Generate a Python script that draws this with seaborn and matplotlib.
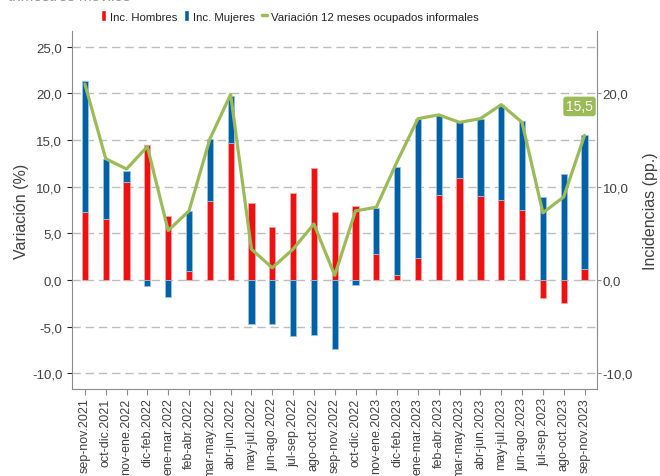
import numpy as np
import seaborn as sns
import matplotlib.pyplot as plt
from matplotlib.patches import Patch
from matplotlib.lines import Line2D

periodos = ['sep-nov.2021', 'oct-dic.2021', 'nov-ene.2022', 'dic-feb.2022', 'ene-mar.2022',
            'feb-abr.2022', 'mar-may.2022', 'abr-jun.2022', 'may-jul.2022', 'jun-ago.2022',
            'jul-sep.2022', 'ago-oct.2022', 'sep-nov.2022', 'oct-dic.2022', 'nov-ene.2023',
            'dic-feb.2023', 'ene-mar.2023', 'feb-abr.2023', 'mar-may.2023', 'abr-jun.2023',
            'may-jul.2023', 'jun-ago.2023', 'jul-sep.2023', 'ago-oct.2023', 'sep-nov.2023']

# incidencias (pp.) por sexo
inc_hombres = [7.3, 6.5, 10.5, 14.5, 6.9, 1.0, 8.5, 14.7, 8.2, 5.7, 9.3, 12.0, 7.3,
               7.9, 2.8, 0.5, 2.4, 9.1, 10.9, 9.0, 8.6, 7.5, -1.9, -2.5, 1.2]
inc_mujeres = [14.0, 6.5, 1.2, -0.6, -1.8, 6.4, 6.6, 5.0, -4.7, -4.7, -6.0, -5.9, -7.4,
               -0.5, 4.9, 11.6, 14.9, 8.6, 6.1, 8.3, 10.2, 9.5, 8.9, 11.4, 14.3]

# variacion 12 meses ocupados informales (%)
var_informales = [21.0, 13.0, 11.9, 14.3, 5.3, 7.4, 15.1, 19.9, 3.3, 1.3, 3.3, 6.0, 0.5,
                  7.4, 7.8, 12.7, 17.3, 17.7, 16.9, 17.3, 18.8, 16.9, 7.2, 8.9, 15.5]

ROJO = '#EE1111'
AZUL = '#0061A6'
VERDE = '#9BBB59'
GRIS = '#8C8C8C'
TEXTO = '#404040'

sns.set_style('white')
plt.rcParams['font.family'] = ['Liberation Sans', 'DejaVu Sans']


def coma(v):
    return f'{v:.1f}'.replace('.', ',')


h = np.array(inc_hombres)
m = np.array(inc_mujeres)
# apilado separado de positivos y negativos
base_m = np.where(np.sign(h) == np.sign(m), h, 0)

fig = plt.figure(figsize=(6.6, 4.77), dpi=100)
ax = fig.add_axes([72 / 660, 1 - 390 / 477, (597 - 72) / 660, (390 - 32) / 477])

sns.barplot(x=periodos, y=inc_hombres, color=ROJO, saturation=1, width=0.3,
            linewidth=0.6, edgecolor='#F6A5A5', ax=ax)
sns.barplot(x=periodos, y=inc_mujeres, bottom=base_m, color=AZUL, saturation=1, width=0.3,
            linewidth=0.6, edgecolor='#9CC2DE', ax=ax)
sns.lineplot(x=np.arange(len(periodos)), y=var_informales, color=VERDE, linewidth=2.3, ax=ax)

ax.set_xlim(-0.62, len(periodos) - 0.4)
ax.set_ylim(-11.7, 26.7)
ax.set_yticks(np.arange(-10, 26, 5))
ax.set_yticklabels([coma(v) for v in np.arange(-10, 26, 5)])
ax.set_xticks(np.arange(len(periodos)))
ax.set_xticklabels(periodos, rotation=90)
ax.grid(axis='y', linestyle=(0, (6, 3.5)), color='#BDBDBD', linewidth=1)
ax.set_axisbelow(True)
ax.tick_params(axis='x', bottom=True, length=4, color=GRIS, pad=2, labelsize=9, labelcolor=TEXTO)
ax.tick_params(axis='y', left=False, pad=3.5, labelsize=9.5, labelcolor=TEXTO)
ax.set_ylabel('Variación (%)', fontsize=11.5, color=TEXTO, labelpad=2)
ax.set_xlabel('')

ax2 = ax.twinx()
ax2.set_ylim(ax.get_ylim())
ax2.set_yticks([-10, 0, 10, 20])
ax2.set_yticklabels([coma(v) for v in [-10, 0, 10, 20]])
ax2.tick_params(axis='y', right=True, length=3, color=GRIS, pad=1, labelsize=9.5, labelcolor=TEXTO)
ax2.set_ylabel('Incidencias (pp.)', fontsize=11.5, color=TEXTO, labelpad=7)

for s in ['top', 'right']:
    ax.spines[s].set_visible(False)
for s in ['left', 'bottom']:
    ax.spines[s].set_color(GRIS)
for s in ['top', 'left', 'bottom']:
    ax2.spines[s].set_visible(False)
ax2.spines['right'].set_color(GRIS)

ax.annotate(coma(var_informales[-1]), xy=(len(periodos) - 1, var_informales[-1]),
            xytext=(-5, 29), textcoords='offset pixels', ha='center', va='center',
            color='white', fontsize=10,
            bbox=dict(boxstyle='round,pad=0.2,rounding_size=0.2', fc=VERDE, ec='none'))

handles = [Patch(fc=ROJO), Patch(fc=AZUL), Line2D([], [], color=VERDE, lw=2.5)]
fig.legend(handles, ['Inc. Hombres', 'Inc. Mujeres', 'Variación 12 meses ocupados informales'],
           loc='center', bbox_to_anchor=(290 / 660, 1 - 17 / 477), ncol=3, frameon=False,
           fontsize=8.2, handlelength=0.4, handleheight=1.1, handletextpad=0.4,
           columnspacing=0.6, labelcolor='#222222')

fig.text(8 / 660, 1 - 1 / 477, 'trimestres móviles', color='#9A9A9A', fontsize=11, va='baseline')

fig.savefig('out.png', dpi=100)
